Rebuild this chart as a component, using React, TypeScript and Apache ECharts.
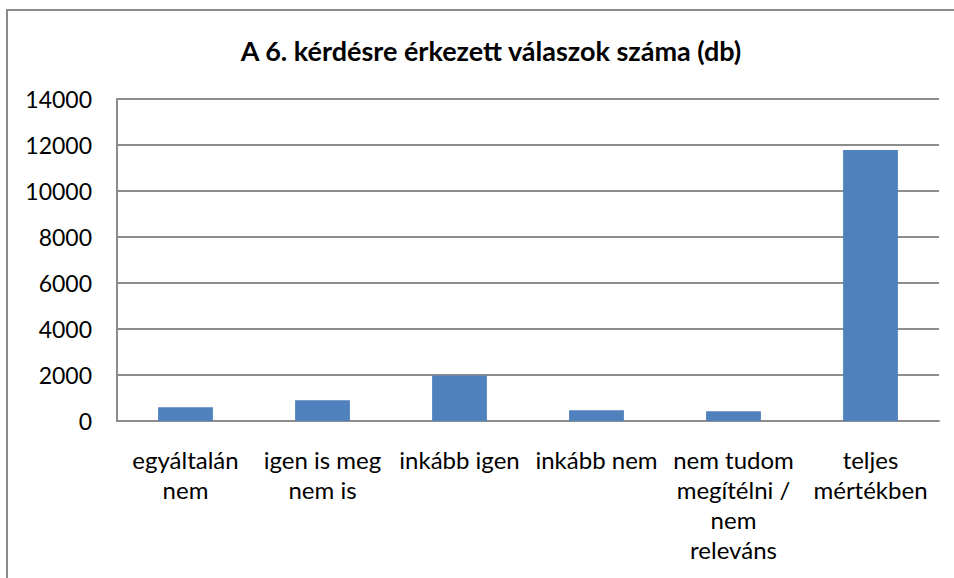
import React, { useEffect, useRef } from "react";
import * as echarts from "echarts";

const title = "A 6. kérdésre érkezett válaszok száma (db)";
const categories = [
  "egyáltalán\nnem",
  "igen is meg\nnem is",
  "inkább igen",
  "inkább nem",
  "nem tudom\nmegítélni /\nnem\nreleváns",
  "teljes\nmértékben",
];
const counts = [600, 900, 1980, 465, 420, 11780];
const yTicks = { min: 0, max: 14000, interval: 2000 };

export default function App() {
  const ref = useRef<HTMLDivElement>(null);
  useEffect(() => {
    if (!ref.current) return;
    const chart = echarts.init(ref.current, null, { renderer: "svg" });
    const font = "Lato, 'Liberation Sans', sans-serif";
    chart.setOption({
      animation: false,
      backgroundColor: "#ffffff",
      title: {
        text: title,
        left: 486,
        top: 32,
        textAlign: "center",
        textStyle: { fontFamily: font, fontSize: 27, fontWeight: "bold", color: "#000" },
      },
      graphic: [
        {
          type: "rect",
          shape: { x: 7, y: 10, width: 980, height: 620 },
          style: { fill: "none", stroke: "#8c8c8c", lineWidth: 2 },
          silent: true,
        },
      ],
      grid: { left: 117, right: 15, top: 99, bottom: 157, containLabel: false },
      xAxis: {
        type: "category",
        data: categories,
        axisLine: { show: true, lineStyle: { color: "#8c8c8c", width: 2 } },
        axisTick: { show: false },
        axisLabel: {
          interval: 0,
          margin: 23,
          fontFamily: font,
          fontSize: 24,
          lineHeight: 30,
          color: "#000",
          align: "center",
        },
      },
      yAxis: {
        type: "value",
        min: yTicks.min,
        max: yTicks.max,
        interval: yTicks.interval,
        axisLine: { show: true, lineStyle: { color: "#8c8c8c", width: 2 } },
        axisTick: { show: false },
        splitLine: { show: true, lineStyle: { color: "#8c8c8c", width: 2 } },
        axisLabel: {
          margin: 25,
          fontFamily: font,
          fontSize: 23,
          color: "#000",
          formatter: (v: number) => String(v),
        },
      },
      series: [
        {
          type: "bar",
          data: counts,
          barWidth: "40%",
          itemStyle: { color: "#4f81bd" },
        },
      ],
    });
    return () => chart.dispose();
  }, []);
  return (
    <div
      ref={ref}
      style={{ position: "absolute", left: 0, top: 0, width: 954, height: 578 }}
    />
  );
}
